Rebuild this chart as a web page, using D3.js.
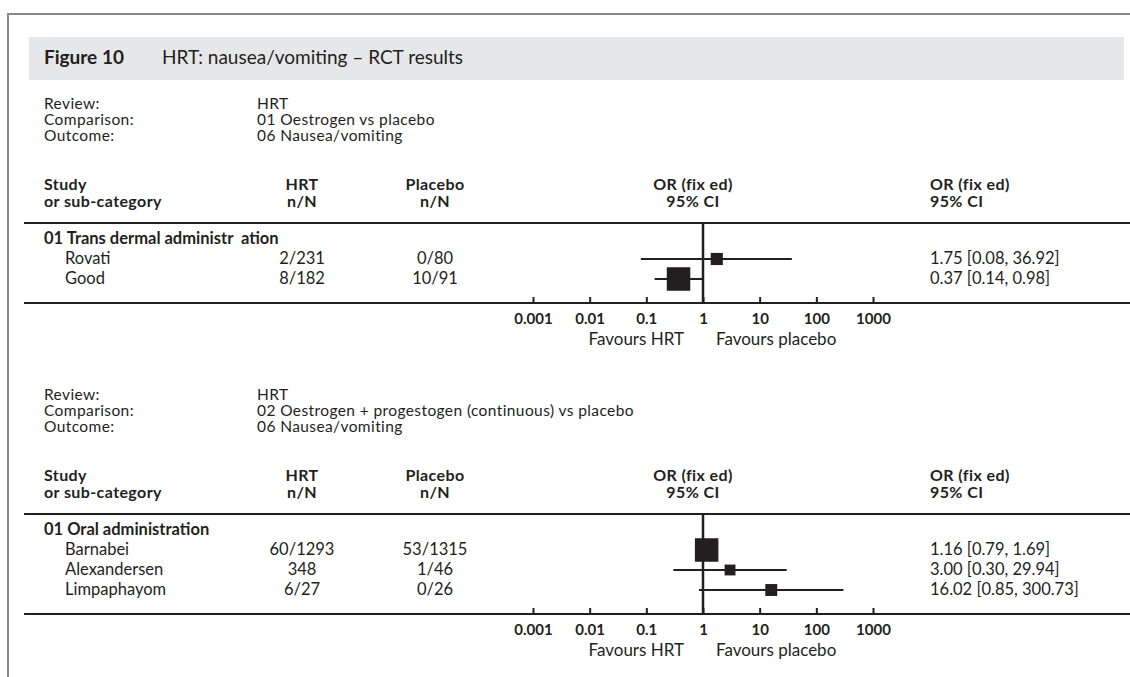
<!DOCTYPE html>
<html lang="en">
<head>
<meta charset="UTF-8">
<title>Figure 10</title>
<style>
  body { margin: 0; background: #fff; }
  svg text { font-family: Lato, "Open Sans", sans-serif; fill: #231f20; white-space: pre; }
</style>
</head>
<body>
<div id="chart"></div>
<script src="https://d3js.org/d3.v7.min.js"></script>
<script>
// ---- data ----
const reviewName = "HRT";
const comparisons = ["01 Oestrogen vs placebo", "02 Oestrogen + progestogen (continuous) vs placebo"];
const outcomes = ["06 Nausea/vomiting", "06 Nausea/vomiting"];
const subgroups = ["01 Trans dermal administr  ation", "01 Oral administration"];

const studies1 = ["Rovati", "Good"];
const hrt1 = ["2/231", "8/182"];
const placebo1 = ["0/80", "10/91"];
const or1 = [1.75, 0.37];
const lo1 = [0.08, 0.14];
const hi1 = [36.92, 0.98];
const weight1 = [21, 79];

const studies2 = ["Barnabei", "Alexandersen", "Limpaphayom"];
const hrt2 = ["60/1293", "348", "6/27"];
const placebo2 = ["53/1315", "1/46", "0/26"];
const or2 = [1.16, 3.00, 16.02];
const lo2 = [0.79, 0.30, 0.85];
const hi2 = [1.69, 29.94, 300.73];
const weight2 = [68, 14.5, 17.5];

const tickValues = [0.001, 0.01, 0.1, 1, 10, 100, 1000];
const tickLabels = ["0.001", "0.01", "0.1", "1", "10", "100", "1000"];

// ---- layout ----
const W = 1130, H = 677;
const ink = "#231f20";
const svg = d3.select("#chart").append("svg").attr("width", W).attr("height", H);

// frame
svg.append("line").attr("x1", 8).attr("x2", W).attr("y1", 14).attr("y2", 14)
    .attr("stroke", "#8a8a8a").attr("stroke-width", 2);
svg.append("line").attr("x1", 8).attr("x2", 8).attr("y1", 13).attr("y2", H)
    .attr("stroke", "#8a8a8a").attr("stroke-width", 2);

// title band
svg.append("rect").attr("x", 29).attr("y", 37).attr("width", 1095).attr("height", 43)
    .attr("fill", "#e6e7e8");
svg.append("text").attr("x", 44).attr("y", 64)
    .style("font-size", "19px").style("font-weight", "bold").text("Figure 10");
svg.append("text").attr("x", 162).attr("y", 64)
    .style("font-size", "19px").text("HRT: nausea/vomiting \u2013 RCT results");

const x = d3.scaleLog().domain([0.001, 1000]).range([533, 873]);

const col = {label: 44, value: 257, study: 65, hrt: 302, placebo: 435, orHead: 693, orText: 930};

function drawPanel(y0, comparison, outcome, subgroup, names, hrt, placebo, or, lo, hi, weight) {
    const g = svg.append("g");
    const fs = "17px", rs = "16.5px";

    // review info
    [["Review:", reviewName], ["Comparison:", comparison], ["Outcome:", outcome]].forEach(function(r, i) {
        g.append("text").attr("x", col.label).attr("y", y0 + i * 16)
            .style("font-size", "15.5px").style("letter-spacing", "0.4px").text(r[0]);
        g.append("text").attr("x", col.value).attr("y", y0 + i * 16)
            .style("font-size", "15.5px").style("letter-spacing", "0.4px").text(r[1]);
    });

    // column headers
    const hy = y0 + 81;
    function head(xp, anchor, l1, l2) {
        [l1, l2].forEach(function(t, k) {
            g.append("text").attr("x", xp).attr("y", hy + 17 * k).attr("text-anchor", anchor)
                .style("font-size", "16px").style("letter-spacing", "0.4px")
                .style("font-weight", "bold").text(t);
        });
    }
    head(col.label, "start", "Study", "or sub-category");
    head(col.hrt, "middle", "HRT", "n/N");
    head(col.placebo, "middle", "Placebo", "n/N");
    head(col.orHead, "middle", "OR (fix ed)", "95% CI");
    head(col.orText, "start", "OR (fix ed)", "95% CI");

    const ruleY = y0 + 114;
    g.append("line").attr("x1", 24).attr("x2", W).attr("y1", ruleY).attr("y2", ruleY)
        .attr("stroke", ink).attr("stroke-width", 2);

    // rows: 0 = subgroup label, then studies
    const rowY = d3.scalePoint().domain(d3.range(names.length + 1))
        .range([ruleY + 16, ruleY + 16 + 20 * names.length]);
    const axisY = rowY(names.length) + 24;

    g.append("text").attr("x", col.label).attr("y", rowY(0) + 5)
        .style("font-size", rs).style("font-weight", "bold").text(subgroup);

    const size = d3.scaleSqrt().domain([0, d3.max(weight)]).range([0, 23.5]);

    names.forEach(function(n, i) {
        const cy = rowY(i + 1);
        g.append("text").attr("x", col.study).attr("y", cy + 5).style("font-size", rs).text(n);
        g.append("text").attr("x", col.hrt).attr("y", cy + 5).attr("text-anchor", "middle")
            .style("font-size", rs).text(hrt[i]);
        g.append("text").attr("x", col.placebo).attr("y", cy + 5).attr("text-anchor", "middle")
            .style("font-size", rs).text(placebo[i]);
        g.append("text").attr("x", col.orText).attr("y", cy + 5).style("font-size", rs)
            .text(or[i].toFixed(2) + " [" + lo[i].toFixed(2) + ", " + hi[i].toFixed(2) + "]");

        g.append("line").attr("x1", x(lo[i])).attr("x2", x(hi[i])).attr("y1", cy).attr("y2", cy)
            .attr("stroke", ink).attr("stroke-width", 2);
        const s = size(weight[i]);
        g.append("rect").attr("x", x(or[i]) - s / 2).attr("y", cy - s / 2)
            .attr("width", s).attr("height", s).attr("fill", ink);
    });

    // line of no effect
    g.append("line").attr("x1", x(1)).attr("x2", x(1)).attr("y1", ruleY).attr("y2", axisY)
        .attr("stroke", ink).attr("stroke-width", 2.5);

    // bottom rule + axis
    g.append("line").attr("x1", 24).attr("x2", W).attr("y1", axisY).attr("y2", axisY)
        .attr("stroke", ink).attr("stroke-width", 2);
    const ax = g.append("g").attr("transform", "translate(0," + axisY + ")")
        .call(d3.axisBottom(x).tickValues(tickValues)
            .tickFormat(function(d, i) { return tickLabels[i]; })
            .tickSizeInner(-6).tickSizeOuter(0).tickPadding(21));
    ax.select(".domain").remove();
    ax.selectAll(".tick line").attr("stroke", ink).attr("stroke-width", 2);
    ax.selectAll(".tick text").attr("dy", 0).attr("fill", ink)
        .style("font-family", "Lato, sans-serif").style("font-size", "15px").style("font-weight", "bold");

    g.append("text").attr("x", x(1) - 19).attr("y", axisY + 42).attr("text-anchor", "end")
        .style("font-size", fs).text("Favours HRT");
    g.append("text").attr("x", x(1) + 13).attr("y", axisY + 42)
        .style("font-size", fs).text("Favours placebo");
}

drawPanel(109, comparisons[0], outcomes[0], subgroups[0], studies1, hrt1, placebo1, or1, lo1, hi1, weight1);
drawPanel(400, comparisons[1], outcomes[1], subgroups[1], studies2, hrt2, placebo2, or2, lo2, hi2, weight2);
</script>
</body>
</html>
